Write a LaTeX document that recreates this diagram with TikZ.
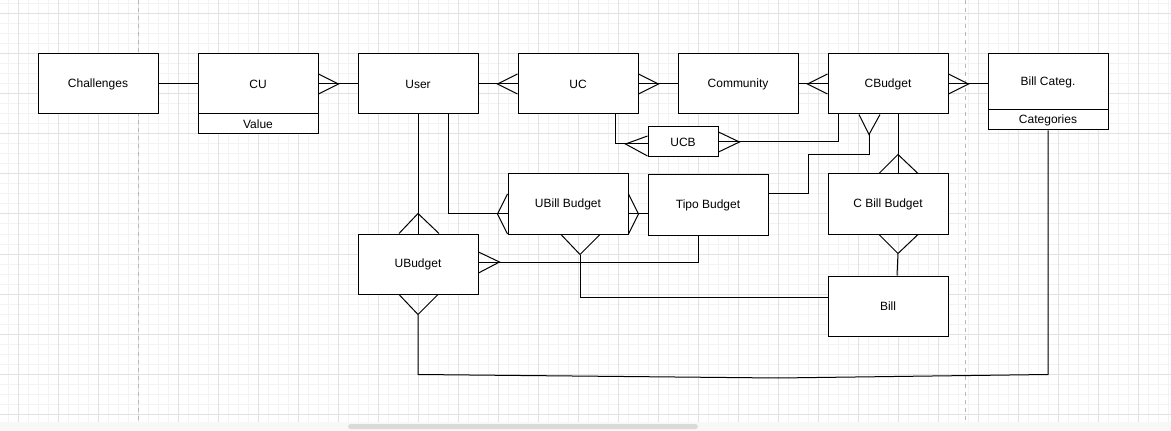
\documentclass[tikz,border=0pt]{standalone}
\usepackage{fontspec}
\setmainfont{Liberation Sans}
\usetikzlibrary{calc}
\definecolor{gmaj}{HTML}{E2E2E2}
\definecolor{gmin}{HTML}{F3F3F3}
\definecolor{pageline}{HTML}{B8B8B8}
\definecolor{strip}{HTML}{F8F8F8}
\definecolor{scroll}{HTML}{DADADA}
\begin{document}
\begin{tikzpicture}[x=0.75pt,y=-0.75pt,
  every path/.style={line width=0.75pt},
  ent/.style={draw=black,fill=white,line width=0.75pt,inner sep=0pt,
    minimum width=90pt,minimum height=45pt,
    font=\fontsize{9}{11}\selectfont},
  sect/.style={ent,minimum height=15pt},
  conn/.style={draw=black,line width=0.75pt,line join=miter}]
\useasboundingbox (0,0) rectangle (1171,431);
% background grid
\fill[white] (0,0) rectangle (1171,422);
\foreach \i in {8,18,...,1168} \draw[gmin,line width=0.75pt] (\i,0) -- (\i,422);
\foreach \j in {4,14,...,414} \draw[gmin,line width=0.75pt] (0,\j) -- (1171,\j);
\foreach \i in {18,58,...,1158} \draw[gmaj,line width=0.75pt] (\i,0) -- (\i,422);
\foreach \j in {14,54,...,414} \draw[gmaj,line width=0.75pt] (0,\j) -- (1171,\j);
\draw[pageline,dash pattern=on 3pt off 3pt] (138,0) -- (138,422);
\draw[pageline,dash pattern=on 3pt off 3pt] (965,0) -- (965,422);
\fill[strip] (0,422) rectangle (1171,431);
\fill[scroll,rounded corners=2pt] (348,424) rectangle (698,429);

% entities
\node[ent] (chal) at (98,84) {Challenges};
\node[ent] (cu) at (258,84) {CU};
\node[sect] (cuv) at (258,124) {Value};
\node[ent] (user) at (418,84) {User};
\node[ent] (uc) at (578,84) {UC};
\node[ent] (comm) at (738,84) {Community};
\node[ent] (cb) at (888,84) {CBudget};
\node[ent,minimum height=42pt] (bc) at (1048,82) {Bill Categ.};
\node[sect] (bcc) at (1048,120) {Categories};
\node[ent,minimum width=52.5pt,minimum height=22.5pt] (ucb) at (683,142) {UCB};
\node[ent] (ubb) at (568,204) {UBill Budget};
\node[ent] (tipo) at (708,205) {Tipo Budget};
\node[ent] (ub) at (418,264) {UBudget};
\node[ent] (cbb) at (888,204) {C Bill Budget};
\node[ent] (bill) at (888,306) {Bill};
\coordinate (sag) at (778,378);

% connectors
\draw[conn] (chal.east) -- (cu.west);
\draw[conn] (cu.east) -- (user.west);
\draw[conn] (cu.east) ++(0,-10) -- ++(20,10) -- ++(-20,10);
\draw[conn] (user.east) -- (uc.west);
\draw[conn] (uc.west) ++(0,-10) -- ++(-20,10) -- ++(20,10);
\draw[conn] (uc.east) -- (comm.west);
\draw[conn] (uc.east) ++(0,-10) -- ++(20,10) -- ++(-20,10);
\draw[conn] (comm.east) -- (cb.west);
\draw[conn] (cb.west) ++(0,-10) -- ++(-20,10) -- ++(20,10);
\draw[conn] (cb.east) -- (cb.east -| bc.west);
\draw[conn] (cb.east) ++(0,-10) -- ++(20,10) -- ++(-20,10);
% UC - UCB
\draw[conn] ($(uc.south)+(37,0)$) |- ($(ucb.west)+(0,2)$);
\draw[conn] ($(ucb.west)+(0,-6)$) -- ($(ucb.west)+(-22,2)$) -- ($(ucb.west)+(0,14)$);
% UCB - CBudget
\draw[conn] (ucb.east) -| ($(cb.south)+(-50,0)$);
\draw[conn] (ucb.east) ++(0,-10) -- ++(21,10) -- ++(-21,10);
% CBudget - Tipo Budget
\draw[conn] ($(cb.south)+(-19,20)$) -- ($(cb.south)+(-19,40)$) -| ($(tipo.east)+(40,-11)$) -- ($(tipo.east)+(0,-11)$);
\draw[conn] ($(cb.south)+(-29,0)$) -- ($(cb.south)+(-19,20)$) -- ($(cb.south)+(-8,0)$);
% CBudget - C Bill Budget
\draw[conn] ($(cb.south)+(10,0)$) -- ($(cbb.north)+(10,0)$);
\draw[conn] ($(cbb.north)+(-9,0)$) -- ($(cbb.north)+(10,-19)$) -- ($(cbb.north)+(30,0)$);
% C Bill Budget - Bill
\draw[conn] ($(cbb.south)+(-9,0)$) -- ($(cbb.south)+(10,19)$) -- ($(cbb.south)+(30,0)$);
\draw[conn] ($(cbb.south)+(10,19)$) -- ($(bill.north)+(9,0)$);
% User - UBudget
\draw[conn] (user.south) -- (ub.north);
\draw[conn] ($(ub.north)+(-19,0)$) -- ($(ub.north)+(0,-20)$) -- ($(ub.north)+(21,0)$);
% User - UBill Budget
\draw[conn] ($(user.south)+(30,0)$) |- ($(ubb.west)+(0,10)$);
\draw[conn] ($(ubb.west)+(0,-10)$) -- ($(ubb.west)+(-10,10)$) -- ($(ubb.west)+(0,30)$);
% UBill Budget - Tipo Budget
\draw[conn] ($(ubb.east)+(0,10)$) -- ($(tipo.west)+(0,9)$);
\draw[conn] ($(ubb.east)+(0,-10)$) -- ($(ubb.east)+(10,10)$) -- ($(ubb.east)+(0,30)$);
% UBill Budget - Bill
\draw[conn] ($(ubb.south)+(12,20)$) |- ($(bill.west)+(0,-9)$);
\draw[conn] ($(ubb.south)+(-7,0)$) -- ($(ubb.south)+(12,20)$) -- ($(ubb.south)+(32,0)$);
% UBudget - Tipo Budget
\draw[conn] ($(ub.east)+(0,-2)$) -| ($(tipo.south)+(-10,0)$);
\draw[conn] ($(ub.east)+(0,-12)$) -- ($(ub.east)+(21,-2)$) -- ($(ub.east)+(0,9)$);
% UBudget - Bill Categ.
\draw[conn] ($(ub.south)+(0,20)$) -- ($(ub.south)+(0,80)$) -- (sag) -- ($(bcc.south)+(0,244)$) -- (bcc.south);
\draw[conn] ($(ub.south)+(-19,0)$) -- ($(ub.south)+(0,20)$) -- ($(ub.south)+(20,0)$);
\end{tikzpicture}
\end{document}
